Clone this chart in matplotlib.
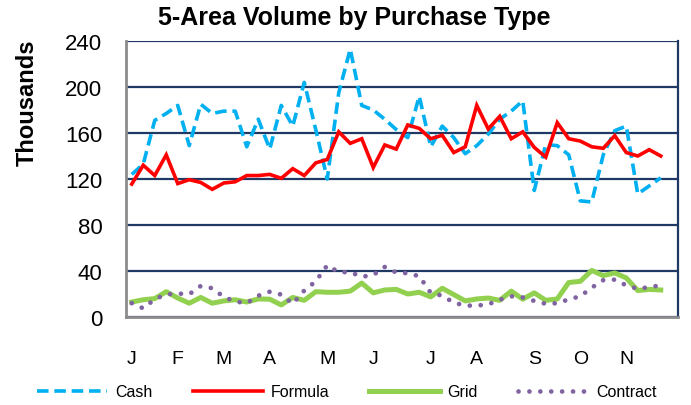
import numpy as np
import matplotlib.pyplot as plt

# weekly volumes, thousands (47 weeks)
cash = [124, 133, 171, 177, 184, 149, 185, 177, 179, 179, 148, 172, 146, 184, 166,
        204, 163, 120, 195, 233, 184, 180, 172, 163, 156, 192, 148, 166, 156, 142,
        149, 159, 172, 179, 188, 110, 150, 149, 141, 101, 100, 141, 162, 166, 107,
        114, 121]
formula = [115.6, 132, 123, 141, 116, 119.4, 117, 111, 116.5, 117.6, 123, 123, 124,
           120.6, 129, 123, 134, 137, 161, 151, 155, 130, 149.6, 146, 167, 164, 155,
           158, 143, 148, 184, 163.5, 174.5, 155, 161, 147.5, 139, 169, 155, 153, 148,
           146.7, 157.7, 143, 140, 145.5, 140]
grid = [13, 15, 16, 22, 16.5, 12, 17, 12, 14, 15, 13, 15.7, 15.5, 10.5, 17, 14.5,
        22, 21.5, 21.5, 22.5, 29.5, 21, 23.5, 24, 20, 21.5, 17.5, 25, 19.5, 14,
        15.7, 16.5, 14.5, 22.5, 15.5, 21, 14.5, 15.7, 30, 31, 40.5, 36, 38.3, 34,
        23, 24, 23.5]
contract = [12, 7.5, 15.5, 19.7, 20.4, 19.8, 27, 25, 17.5, 13.5, 12, 18.5, 22, 19.5,
            11.5, 23, 31, 45, 39, 39, 35, 36.5, 43.5, 38.7, 38, 35.5, 21, 18.5, 12.5,
            9.9, 9.9, 11, 15, 18, 17, 14, 11.5, 12, 15.3, 18, 25.5, 32, 32.5, 27.5,
            24.5, 26, 27.5]

month_labels = ['J', 'F', 'M', 'A', 'M', 'J', 'J', 'A', 'S', 'O', 'N']
month_weeks = [0, 4, 8, 12, 17, 21, 26, 30, 35, 39, 43]

plt.rcParams['font.family'] = ['Liberation Sans', 'DejaVu Sans']

fig = plt.figure(figsize=(6.91, 4.06), dpi=100)
ax = fig.add_axes([126 / 691, 88 / 406, 552 / 691, 276 / 406])

x = np.arange(len(cash))
ax.plot(x, cash, color='#00B0F0', lw=2.6, linestyle=(0, (3.2, 1.6)), label='Cash')
ax.plot(x, formula, color='#FF0000', lw=2.6, solid_joinstyle='miter', label='Formula')
ax.plot(x, grid, color='#92D050', lw=3.6, label='Grid')
ax.plot(x, contract, color='#8064A2', lw=3.4, linestyle=(0, (0.01, 2.3)),
        dash_capstyle='round', label='Contract')

ax.set_xlim(-0.5, 47.5)
ax.set_ylim(0, 240)
ax.set_yticks(np.arange(0, 241, 40))
ax.set_xticks(month_weeks)
ax.set_xticklabels(month_labels)
ax.tick_params(axis='x', length=0, pad=24, labelsize=14)
ax.tick_params(axis='y', length=0, pad=17, labelsize=16)

ax.grid(axis='y', color='#1F3864', lw=1.6, zorder=0)
ax.set_axisbelow(True)
for s in ['left', 'bottom']:
    ax.spines[s].set_color('#8C8C8C')
    ax.spines[s].set_linewidth(2)
ax.spines['right'].set_color('#1F3864')
ax.spines['right'].set_linewidth(1.6)
ax.spines['top'].set_visible(False)

fig.text(354 / 691, 1 - 18 / 406, '5-Area Volume by Purchase Type', ha='center',
         va='center', fontsize=18, fontweight='bold')
fig.text(27 / 691, 1 - 103 / 406, 'Thousands', ha='center', va='center',
         rotation=90, fontsize=17, fontweight='bold')

fig.legend(loc='center', bbox_to_anchor=(347 / 691, 1 - 393 / 406), ncol=4,
           frameon=False, fontsize=11.5, handlelength=4.4, columnspacing=2.5,
           handletextpad=0.5)

fig.savefig('out.png', dpi=100)
